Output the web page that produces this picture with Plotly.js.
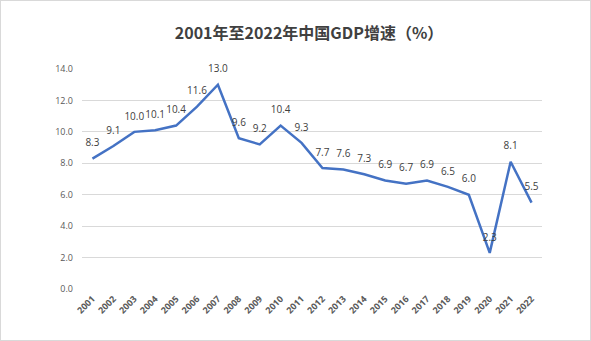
<!DOCTYPE html>
<html><head><meta charset="utf-8">
<script src="https://cdn.plot.ly/plotly-3.0.1.min.js"></script>
<style>
html,body{margin:0;padding:0;background:#fff;}
#wrap{position:absolute;left:0;top:0;width:591px;height:341px;box-sizing:border-box;border:1px solid #D9D9D9;}
#chart{position:absolute;left:0;top:0;width:589px;height:339px;}
</style></head>
<body><div id="wrap"><div id="chart"></div></div>
<script>
const years = ["2001","2002","2003","2004","2005","2006","2007","2008","2009","2010","2011","2012","2013","2014","2015","2016","2017","2018","2019","2020","2021","2022"];
const growth = [8.3,9.1,10.0,10.1,10.4,11.6,13.0,9.6,9.2,10.4,9.3,7.7,7.6,7.3,6.9,6.7,6.9,6.5,6.0,2.3,8.1,5.5];
const yTicks = [0,2,4,6,8,10,12,14];
const titleText = "2001年至2022年中国GDP增速（%）";

const trace = {
  x: years, y: growth, type: 'scatter', mode: 'lines+markers+text',
  line: {color: '#4472C4', width: 2.5},
  marker: {size: 14, color: 'rgba(0,0,0,0)'},
  text: growth.map(v => v.toFixed(1)),
  textposition: 'top center',
  textfont: {family: 'Open Sans, Noto Sans, sans-serif', size: 10, color: '#404040'},
  cliponaxis: false, hoverinfo: 'none'
};
const layout = {
  width: 589, height: 339,
  margin: {l: 81, r: 48, t: 68, b: 51},
  paper_bgcolor: '#fff', plot_bgcolor: '#fff',
  title: {text: '<b>' + titleText + '</b>', x: 0.523, xanchor: 'center', y: 0.905, yanchor: 'middle',
    font: {family: 'Noto Sans CJK SC, sans-serif', size: 16, color: '#404040'}},
  xaxis: {type: 'category', range: [-0.5, 21.5], tickangle: -45, showgrid: false, zeroline: false,
    showline: false, ticks: '', ticklabelstandoff: 2,
    tickfont: {family: 'Open Sans, sans-serif', size: 9, color: '#595959', weight: 'bold'}},
  yaxis: {range: [0, 14], tickvals: yTicks, ticktext: yTicks.map(v => v.toFixed(1)),
    showgrid: true, gridcolor: '#D9D9D9', gridwidth: 1, zeroline: false, showline: false, ticks: '',
    ticklabelstandoff: 8,
    tickfont: {family: 'Open Sans, sans-serif', size: 9, color: '#595959'}},
  showlegend: false
};
Plotly.newPlot('chart', [trace], layout, {staticPlot: true, displayModeBar: false});
</script></body></html>
